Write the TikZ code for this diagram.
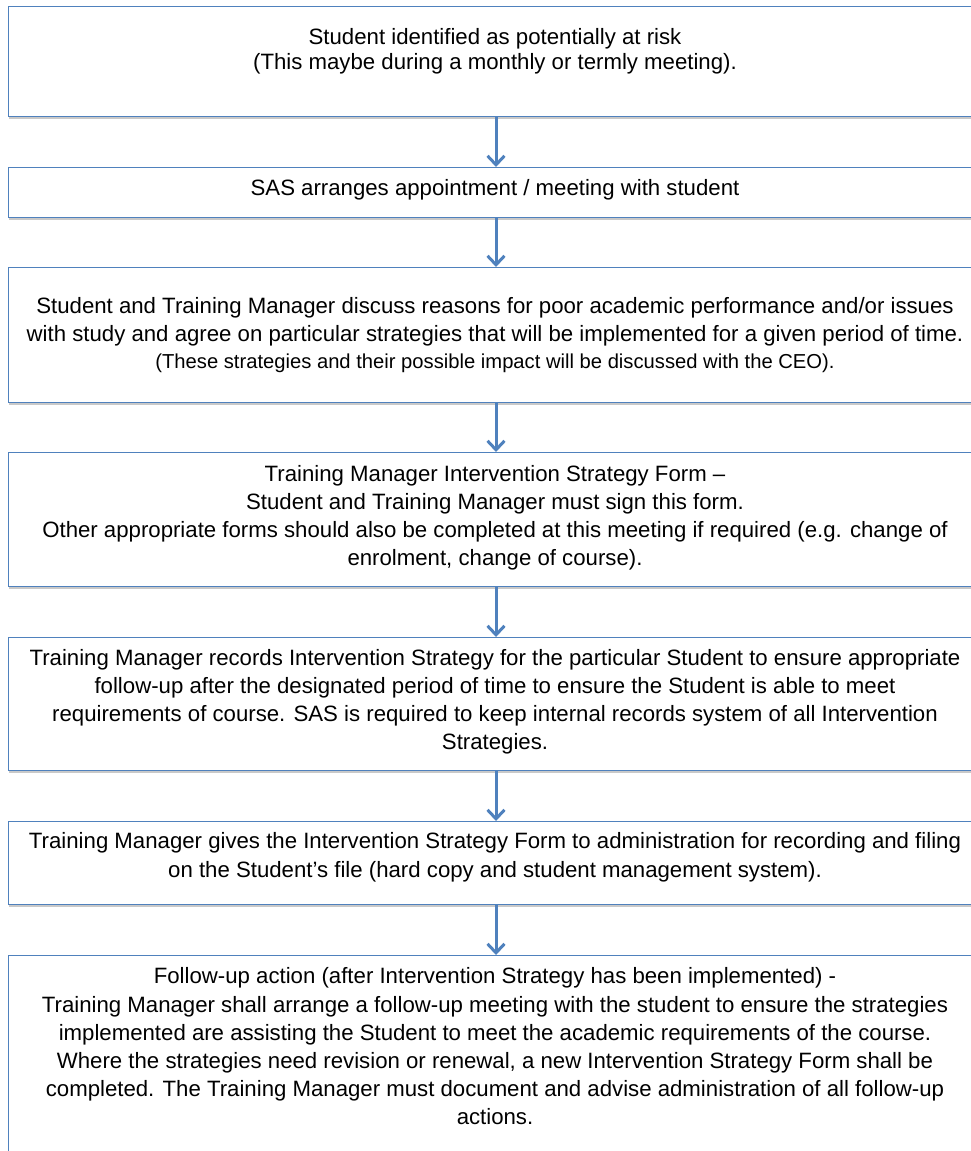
\documentclass[tikz,border=0pt]{standalone}
\usepackage{fontspec}
\setmainfont{Liberation Sans}
\usetikzlibrary{arrows.meta,shadows}
\definecolor{bblue}{HTML}{4F81BD}
\tikzset{
  box/.style={draw=bblue, line width=1pt, fill=white, rectangle, minimum width=975pt,
    anchor=north west, inner sep=0pt,
    drop shadow={shadow xshift=0.5pt, shadow yshift=-2pt, opacity=0.3, fill=black!70}},
  ln/.style={anchor=base, inner sep=0pt, font=\fontsize{22.2}{28}\selectfont},
  sm/.style={anchor=base, inner sep=0pt, font=\fontsize{20.2}{26}\selectfont},
  arr/.style={draw=bblue, line width=3pt, -{Straight Barb[length=9pt,width=17pt,line width=3pt]}}
}
\begin{document}
\begin{tikzpicture}[x=1pt,y=-1pt]
\useasboundingbox (0,0) rectangle (971,1151);
\begin{scope}
\clip (0,0) rectangle (971,1151);
\node[box, minimum height=110pt] (b1) at (8,6) {};
\node[box, minimum height=50pt]  (b2) at (8,167) {};
\node[box, minimum height=135pt] (b3) at (8,267) {};
\node[box, minimum height=134pt] (b4) at (8,452) {};
\node[box, minimum height=133pt] (b5) at (8,637) {};
\node[box, minimum height=83pt]  (b6) at (8,821) {};
\node[box, minimum height=230pt] (b7) at (8,955) {};
\end{scope}

\draw[arr] (b1.south) -- (b2.north);
\draw[arr] (b2.south) -- (b3.north);
\draw[arr] (b3.south) -- (b4.north);
\draw[arr] (b4.south) -- (b5.north);
\draw[arr] (b5.south) -- (b6.north);
\draw[arr] (b6.south) -- (b7.north);

% box 1
\node[ln] (t11) at (495,44) {Student identified as potentially at risk};
\node[ln] (t12) at (495,69) {(This maybe during a monthly or termly meeting).};
% box 2
\node[ln] (t21) at (495,195) {SAS arranges appointment / meeting with student};
% box 3
\node[ln] (t31) at (495,313) {Student and Training Manager discuss reasons for poor academic performance and/or issues};
\node[ln] (t32) at (495,341) {with study and agree on particular strategies that will be implemented for a given period of time.};
\node[sm] (t33) at (495,368) {(These strategies and their possible impact will be discussed with the CEO).};
% box 4
\node[ln] (t41) at (495,481) {Training Manager Intervention Strategy Form –};
\node[ln] (t42) at (495,509) {Student and Training Manager must sign this form.};
\node[ln] (t43) at (495,537) {Other appropriate forms should also be completed at this meeting if required (e.g. change of};
\node[ln] (t44) at (495,565) {enrolment, change of course).};
% box 5
\node[ln] (t51) at (495,665) {Training Manager records Intervention Strategy for the particular Student to ensure appropriate};
\node[ln] (t52) at (495,693) {follow-up after the designated period of time to ensure the Student is able to meet};
\node[ln] (t53) at (495,721) {requirements of course. SAS is required to keep internal records system of all Intervention};
\node[ln] (t54) at (495,749) {Strategies.};
% box 6
\node[ln] (t61) at (495,848) {Training Manager gives the Intervention Strategy Form to administration for recording and filing};
\node[ln] (t62) at (495,877) {on the Student’s file (hard copy and student management system).};
% box 7
\node[ln] (t71) at (495,983) {Follow-up action (after Intervention Strategy has been implemented) -};
\node[ln] (t72) at (495,1012) {Training Manager shall arrange a follow-up meeting with the student to ensure the strategies};
\node[ln] (t73) at (495,1040) {implemented are assisting the Student to meet the academic requirements of the course.};
\node[ln] (t74) at (495,1068) {Where the strategies need revision or renewal, a new Intervention Strategy Form shall be};
\node[ln] (t75) at (495,1096) {completed. The Training Manager must document and advise administration of all follow-up};
\node[ln] (t76) at (495,1124) {actions.};
\end{tikzpicture}
\end{document}
